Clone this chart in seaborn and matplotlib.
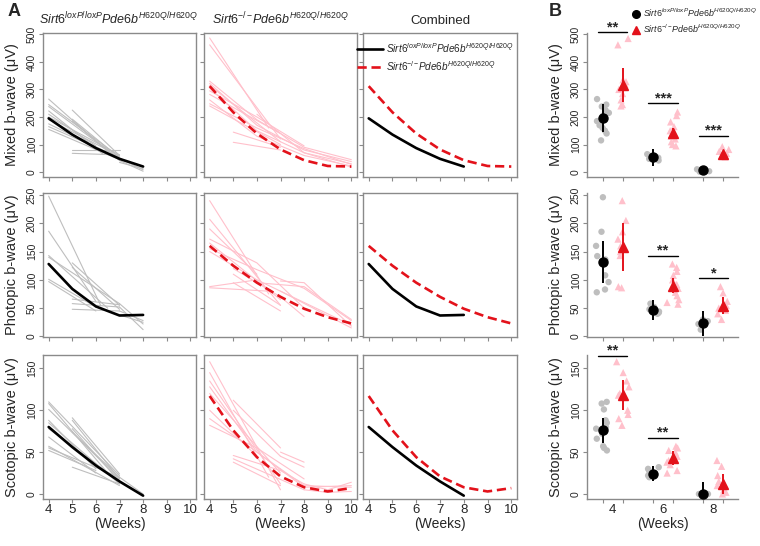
import numpy as np
import pandas as pd
import seaborn as sns
import matplotlib.pyplot as plt
from matplotlib.lines import Line2D

sns.set_style("white")
plt.rcParams['font.family'] = ['Liberation Sans', 'DejaVu Sans']
plt.rcParams['mathtext.fontset'] = 'custom'
plt.rcParams['mathtext.rm'] = 'Liberation Sans'
plt.rcParams['mathtext.it'] = 'Liberation Sans:italic'
plt.rcParams['mathtext.bf'] = 'Liberation Sans:bold'

# ---- panel A: individual mice (weeks, values) ----
ctrl_mixed_lines = [
    ([4, 6.5], [265, 75]), ([4, 7], [245, 55]), ([4, 7], [238, 48]),
    ([4, 6.3], [222, 65]), ([4, 6], [210, 95]), ([4, 7], [200, 62]),
    ([4, 6.5], [190, 80]), ([4, 7], [175, 50]), ([4, 6], [165, 90]),
    ([4, 7], [155, 45]), ([5, 7], [225, 60]), ([5, 7], [192, 52]),
    ([5, 7], [185, 42]), ([5, 7], [80, 80]), ([5, 7], [68, 62]),
    ([7, 8], [50, 8]), ([7, 8], [42, 3]), ([7, 8], [35, 12]),
]
ko_mixed_lines = [
    ([4, 6.5], [487, 160]), ([4, 7], [462, 120]),
    ([4, 6, 8, 10], [330, 190, 90, 45]), ([4, 6, 8, 10], [322, 170, 80, 38]),
    ([4, 7], [315, 110]), ([4, 6, 8, 10], [305, 150, 70, 30]),
    ([4, 6, 8], [295, 200, 95]), ([4, 7], [282, 140]),
    ([4, 6, 8, 10], [262, 130, 60, 22]), ([4, 6, 8, 10], [248, 160, 85, 28]),
    ([4, 7], [240, 100]), ([5, 7], [145, 90]), ([5, 7], [108, 80]),
    ([6, 8, 10], [210, 70, 18]),
]
ctrl_photo_lines = [
    ([4, 6.2], [248, 55]), ([4, 6], [186, 62]), ([4, 6.5], [143, 50]),
    ([4, 7], [140, 58]), ([4, 6], [101, 52]), ([4, 6], [97, 45]),
    ([5, 7], [130, 55]), ([5, 7], [122, 48]), ([5, 7], [66, 56]),
    ([5, 7], [58, 52]), ([5, 7], [48, 45]), ([7, 8], [58, 22]),
    ([7, 8], [52, 12]), ([7, 8], [45, 28]), ([7, 8], [38, 25]),
]
ko_photo_lines = [
    ([4, 6.5], [240, 75]), ([4, 7], [207, 55]), ([4, 6], [190, 110]),
    ([4, 6, 8], [172, 130, 50]), ([4, 7], [165, 65]),
    ([4, 6, 8, 10], [155, 118, 85, 28]), ([4, 6, 8, 10], [150, 100, 60, 20]),
    ([4, 6], [88, 100]), ([4, 6.5], [86, 80]), ([5, 7], [110, 55]),
    ([5, 7], [95, 45]), ([5, 7, 8], [120, 70, 35]), ([6, 8, 10], [95, 88, 30]),
    ([7, 8, 10], [98, 95, 18]), ([7, 10], [80, 15]),
]
ctrl_scot_lines = [
    ([4, 7], [110, 22]), ([4, 6.5], [108, 25]), ([4, 7], [101, 18]),
    ([4, 6], [88, 30]), ([4, 7], [85, 12]), ([4, 7], [78, 15]),
    ([4, 6], [68, 25]), ([4, 7], [57, 10]), ([4, 7], [55, 20]),
    ([4, 6], [52, 28]), ([5, 7], [91, 24]), ([5, 7], [88, 18]),
    ([5, 7], [78, 15]), ([5, 7], [74, 20]), ([5, 7], [32, 12]),
    ([7, 8], [20, 0]),
]
ko_scot_lines = [
    ([4, 7], [158, 5]), ([4, 6.5], [145, 20]), ([4, 7], [135, 12]),
    ([4, 6, 8], [128, 50, 8]), ([4, 7], [120, 25]), ([4, 6], [100, 45]),
    ([4, 7], [90, 30]), ([4, 6, 8], [82, 55, 18]), ([5, 7], [112, 55]),
    ([5, 7], [100, 45]), ([5, 7, 8], [46, 28, 12]), ([5, 8], [42, 5]),
    ([5, 7], [38, 10]), ([7, 8], [50, 38]), ([7, 8], [45, 32]),
    ([7, 8, 10], [30, 10, 8]), ([8, 9, 10], [12, 5, 14]), ([8, 10], [8, 10]),
    ([8, 9, 10], [5, 2, 3]),
]

# fitted curves read at whole weeks
fit_weeks_ctrl = [4, 5, 6, 7, 8]
fit_weeks_ko = [4, 5, 6, 7, 8, 9, 10]
fit_ctrl_mixed = [195, 136, 87, 48, 20]
fit_ko_mixed = [312, 217, 140, 82, 43, 22, 20]
fit_ctrl_photo = [128, 84, 53, 37, 38]
fit_ko_photo = [160, 125, 95, 70, 49, 34, 23]
fit_ctrl_scot = [80, 56, 34, 15, -2]
fit_ko_scot = [117, 76, 44, 21, 8, 3, 7]

# ---- panel B: per week (4, 6, 8) ----
b_weeks = [4, 6, 8]
b_mixed_ctrl = [[265, 245, 238, 225, 215, 205, 195, 185, 170, 160, 150, 140, 115],
                [65, 58, 52, 48, 45, 42], [10, 6, 3, 1, 0]]
b_mixed_ko = [[485, 462, 335, 328, 320, 312, 300, 285, 262, 245, 240],
              [218, 205, 182, 165, 150, 140, 130, 120, 110, 100, 95],
              [92, 82, 75, 68, 62, 58, 55]]
b_photo_ctrl = [[246, 185, 160, 142, 136, 130, 108, 96, 83, 78],
                [58, 52, 48, 44, 42, 40], [30, 27, 22, 12]]
b_photo_ko = [[240, 205, 185, 172, 160, 150, 143, 88, 86],
              [128, 122, 115, 108, 100, 92, 85, 78, 72, 65, 60, 57],
              [88, 77, 62, 55, 50, 46, 40, 30]]
b_scot_ctrl = [[110, 108, 101, 88, 85, 80, 78, 75, 72, 66, 57, 55, 52],
               [32, 30, 27, 24, 22, 20], [1, 0, 0, 0]]
b_scot_ko = [[158, 145, 135, 128, 120, 118, 100, 95, 90, 82],
             [57, 55, 52, 50, 45, 42, 40, 38, 35, 28, 25],
             [40, 33, 22, 15, 10, 5, 2, 0]]

b_mixed_ctrl_mean, b_mixed_ctrl_err = [195, 54, 6], [51, 31, 12]
b_mixed_ko_mean, b_mixed_ko_err = [317, 140, 66], [62, 21, 9]
b_photo_ctrl_mean, b_photo_ctrl_err = [131, 47, 23], [37, 18, 22]
b_photo_ko_mean, b_photo_ko_err = [158, 90, 54], [43, 14, 15]
b_scot_ctrl_mean, b_scot_ctrl_err = [76, 24, 0], [15, 9, 14]
b_scot_ko_mean, b_scot_ko_err = [118, 43, 12], [18, 8, 12]

b_mixed_sig = [(0, 508, '**'), (1, 249, '***'), (2, 132, '***')]
b_photo_sig = [(1, 143, '**'), (2, 103, '*')]
b_scot_sig = [(0, 165, '**'), (1, 67, '**')]

row_names = ['Mixed b-wave (μV)', 'Photopic b-wave (μV)', 'Scotopic b-wave (μV)']
ctrl_label = r'$\mathit{Sirt6}^{\mathit{loxP/loxP}}\mathit{Pde6b}^{\mathit{H620Q/H620Q}}$'
ko_label = r'$\mathit{Sirt6}^{\mathit{-/-}}\!\mathit{Pde6b}^{\mathit{H620Q/H620Q}}$'

GREY = '#bebebe'
PINK = '#ffc0cb'
RED = '#e3121b'
FRAME = '#8a8a8a'
DASH = (0, (3.5, 1.8))

W, H = 760, 546
fig = plt.figure(figsize=(W / 100, H / 100), dpi=100)
np.random.seed(7)  # fixed horizontal jitter for the strip points


def px_axes(x0, x1, y0, y1):
    return fig.add_axes([x0 / W, 1 - y1 / H, (x1 - x0) / W, (y1 - y0) / H])


def to_long(lines):
    rows = []
    for i, (wk, vals) in enumerate(lines):
        for w, v in zip(wk, vals):
            rows.append((i, w, v))
    return pd.DataFrame(rows, columns=['mouse', 'week', 'value'])


col_x = [(43, 196), (204, 357), (363, 517)]
row_y = [(33, 177), (193, 337), (355, 499)]
ylims = [(-18, 505), (-1, 253.5), (-6, 166)]
yticks = [[0, 100, 200, 300, 400, 500], [0, 50, 100, 150, 200, 250], [0, 50, 100, 150]]

rows = [
    (ctrl_mixed_lines, ko_mixed_lines, fit_ctrl_mixed, fit_ko_mixed,
     b_mixed_ctrl, b_mixed_ko, b_mixed_ctrl_mean, b_mixed_ctrl_err,
     b_mixed_ko_mean, b_mixed_ko_err, b_mixed_sig),
    (ctrl_photo_lines, ko_photo_lines, fit_ctrl_photo, fit_ko_photo,
     b_photo_ctrl, b_photo_ko, b_photo_ctrl_mean, b_photo_ctrl_err,
     b_photo_ko_mean, b_photo_ko_err, b_photo_sig),
    (ctrl_scot_lines, ko_scot_lines, fit_ctrl_scot, fit_ko_scot,
     b_scot_ctrl, b_scot_ko, b_scot_ctrl_mean, b_scot_ctrl_err,
     b_scot_ko_mean, b_scot_ko_err, b_scot_sig),
]


def style_y(ax, r, labels):
    ax.set_ylim(*ylims[r])
    ax.set_yticks(yticks[r])
    ax.tick_params(axis='y', length=3, width=0.8, color=FRAME, labelsize=7.5,
                   labelrotation=90, pad=1.5, labelleft=labels, left=True)
    for lab in ax.get_yticklabels():
        lab.set_va('center')
    if labels:
        ax.set_ylabel(row_names[r], fontsize=10.5, labelpad=2)
    else:
        ax.set_ylabel('')


for r, (cl, kl, fc, fk, bc, bk, bcm, bce, bkm, bke, sig) in enumerate(rows):
    y0, y1 = row_y[r]
    axes = [px_axes(x0, x1, y0, y1) for x0, x1 in col_x]

    sns.lineplot(data=to_long(cl), x='week', y='value', units='mouse', estimator=None,
                 color=GREY, lw=0.8, ax=axes[0])
    sns.lineplot(x=fit_weeks_ctrl, y=fc, color='black', lw=1.9, ax=axes[0])
    sns.lineplot(data=to_long(kl), x='week', y='value', units='mouse', estimator=None,
                 color=PINK, lw=0.8, ax=axes[1])
    sns.lineplot(x=fit_weeks_ko, y=fk, color=RED, lw=1.9, ls=DASH, ax=axes[1])
    sns.lineplot(x=fit_weeks_ctrl, y=fc, color='black', lw=1.9, ax=axes[2])
    sns.lineplot(x=fit_weeks_ko, y=fk, color=RED, lw=1.9, ls=DASH, ax=axes[2])

    for c, ax in enumerate(axes):
        ax.set_xlim(3.76, 10.24)
        ax.set_xticks([4, 5, 6, 7, 8, 9, 10])
        ax.tick_params(axis='x', length=3, width=0.8, color=FRAME, labelsize=9.5,
                       pad=0.5, labelbottom=(r == 2), bottom=True)
        ax.set_xlabel('')
        style_y(ax, r, c == 0)
        for s in ax.spines.values():
            s.set_color(FRAME)
            s.set_linewidth(1.0)
        if c == 0:
            ax.yaxis.set_label_coords(-0.155, 0.5)

    if r == 0:
        handles = [Line2D([], [], color='black', lw=1.9),
                   Line2D([], [], color=RED, lw=1.9, ls=DASH)]
        axes[2].legend(handles, [ctrl_label, ko_label], loc='upper right',
                       bbox_to_anchor=(1.01, 0.98), frameon=False, fontsize=7.2,
                       handlelength=2.6, handletextpad=0.3, labelspacing=0.45,
                       borderaxespad=0.1)

    # panel B
    axb = px_axes(587, 738, y0, y1)
    long_rows = []
    for i, w in enumerate(b_weeks):
        for v in bc[i]:
            long_rows.append((w, 'ctrl', v))
        for v in bk[i]:
            long_rows.append((w, 'ko', v))
    dfb = pd.DataFrame(long_rows, columns=['week', 'geno', 'value'])
    for g, mk, sz in [('ctrl', 'o', 4.6), ('ko', '^', 5.2)]:
        sns.stripplot(data=dfb[dfb.geno == g], x='week', y='value', hue='geno',
                      hue_order=['ctrl', 'ko'], order=b_weeks, dodge=True, jitter=0.26,
                      palette={'ctrl': GREY, 'ko': PINK}, marker=mk, size=sz,
                      linewidth=0, legend=False, ax=axb, zorder=2)
    pos = np.arange(len(b_weeks))
    axb.errorbar(pos - 0.2, bcm, yerr=bce, fmt='o', color='black', ms=6.5,
                 elinewidth=1.4, capsize=0, zorder=5)
    axb.errorbar(pos + 0.2, bkm, yerr=bke, fmt='^', color=RED, ms=7,
                 elinewidth=1.4, capsize=0, zorder=5)
    for gi, yv, txt in sig:
        axb.plot([gi - 0.29, gi + 0.29], [yv, yv], color='black', lw=1, clip_on=False)
        axb.annotate(txt, (gi, yv), xytext=(0, -1.5), textcoords='offset points',
                     ha='center', va='bottom', fontsize=10.5, fontweight='bold',
                     annotation_clip=False)
    axb.set_xlim(-0.51, 2.49)
    axb.set_xticks(pos)
    axb.set_xticklabels([str(w) for w in b_weeks])
    axb.set_xticks(np.concatenate([pos - 0.2, pos + 0.2]), minor=True)
    axb.tick_params(axis='x', which='major', length=0, labelsize=9.5, pad=3.5,
                    labelbottom=(r == 2))
    axb.tick_params(axis='x', which='minor', length=3, width=0.8, color=FRAME, bottom=True)
    axb.set_xlabel('')
    style_y(axb, r, True)
    axb.yaxis.set_label_coords(-0.16, 0.5)
    sns.despine(ax=axb)
    for s in ['left', 'bottom']:
        axb.spines[s].set_color(FRAME)
        axb.spines[s].set_linewidth(1.0)

# titles and labels
fig.text(14 / W, 1 - 12 / H, 'A', fontsize=13, fontweight='bold', ha='center', va='center')
fig.text(555 / W, 1 - 12 / H, 'B', fontsize=13, fontweight='bold', ha='center', va='center')
fig.text(119 / W, 1 - 19 / H, ctrl_label, fontsize=9, ha='center', va='center')
fig.text(280 / W, 1 - 19 / H, ko_label, fontsize=9, ha='center', va='center')
fig.text(440 / W, 1 - 21 / H, 'Combined', fontsize=9.5, ha='center', va='center')
for xc in [120, 280, 440, 663]:
    fig.text(xc / W, 1 - 524 / H, '(Weeks)', fontsize=10, ha='center', va='center')

leg_handles = [Line2D([], [], marker='o', color='black', ls='', ms=5.5),
               Line2D([], [], marker='^', color=RED, ls='', ms=6)]
fig.legend(leg_handles, [ctrl_label, ko_label], loc='upper left',
           bbox_to_anchor=(627 / W, 1 - 3 / H), frameon=False, fontsize=6.4,
           handletextpad=0.05, labelspacing=0.4, borderaxespad=0, handlelength=1.3)

fig.savefig('out.png', dpi=100)
